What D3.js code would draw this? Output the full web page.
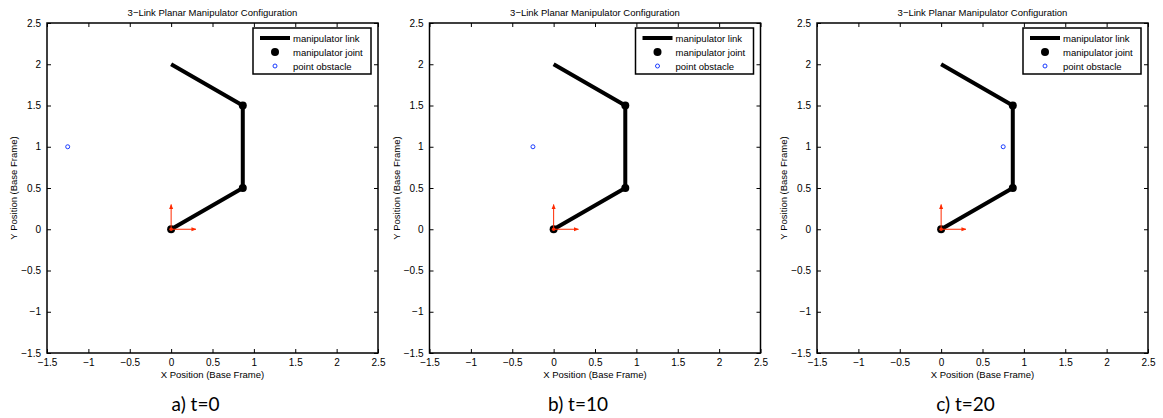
<!DOCTYPE html>
<html><head><meta charset="utf-8">
<script src="https://cdn.jsdelivr.net/npm/d3@7"></script>
<style>body{margin:0;background:#fff}svg{display:block}</style>
</head><body>
<svg id="c" width="1163" height="418"></svg>
<script>
// ---- data ----
const captions = ["a) t=0", "b) t=10", "c) t=20"];
const linkX = [0, 0.866, 0.866, 0];
const linkY = [0, 0.5, 1.5, 2];
const jointX = [0, 0.866, 0.866];
const jointY = [0, 0.5, 1.5];
const obstacleX = [-1.25, -0.25, 0.75];
const obstacleY = [1, 1, 1];
const xTicks = [-1.5, -1, -0.5, 0, 0.5, 1, 1.5, 2, 2.5];
const yTicks = [-1.5, -1, -0.5, 0, 0.5, 1, 1.5, 2, 2.5];
const frameX = [0.3, 0];   // base frame arrow tips
const frameY = [0, 0.3];
const legendLabels = ["manipulator link", "manipulator joint", "point obstacle"];
const title = "3\u2212Link Planar Manipulator Configuration";

const svg = d3.select("#c");
const panelLeft = [47, 429.5, 817];
const W = 331, topY = 23, H = 330;
const font = "'Liberation Sans', Arial, sans-serif";
const fmt = d => (d < 0 ? "\u2212" : "") + String(Math.abs(d));

const defs = svg.append("defs");
defs.append("marker").attr("id", "ah").attr("viewBox", "0 0 10 10")
  .attr("refX", 9).attr("refY", 5).attr("markerWidth", 5).attr("markerHeight", 5)
  .attr("markerUnits", "userSpaceOnUse").attr("orient", "auto")
  .append("path").attr("d", "M0,1 L10,5 L0,9 Z").attr("fill", "#ff2a00");

panelLeft.forEach((L, p) => {
  const x = d3.scaleLinear().domain([-1.5, 2.5]).range([L, L + W]);
  const y = d3.scaleLinear().domain([-1.5, 2.5]).range([topY + H, topY]);
  const g = svg.append("g");

  const ax = (axis, tr) => {
    const a = g.append("g").attr("transform", tr).call(axis);
    a.select(".domain").remove();
    a.selectAll("line").attr("stroke", "#000").attr("stroke-width", 1);
    a.selectAll("text").attr("font-family", font).attr("font-size", 10).attr("fill", "#000");
    return a;
  };
  ax(d3.axisBottom(x).tickValues(xTicks).tickSize(-4).tickPadding(6).tickFormat(fmt), `translate(0,${topY + H})`);
  ax(d3.axisTop(x).tickValues(xTicks).tickSize(-4).tickFormat(""), `translate(0,${topY})`);
  ax(d3.axisLeft(y).tickValues(yTicks).tickSize(-4).tickPadding(6).tickFormat(fmt), `translate(${L},0)`);
  ax(d3.axisRight(y).tickValues(yTicks).tickSize(-4).tickFormat(""), `translate(${L + W},0)`);
  g.append("rect").attr("x", L).attr("y", topY).attr("width", W).attr("height", H)
    .attr("fill", "none").attr("stroke", "#000").attr("stroke-width", 1.5);

  g.append("text").attr("x", L + W / 2).attr("y", 16).attr("text-anchor", "middle")
    .attr("font-family", font).attr("font-size", 9.5).text(title);
  g.append("text").attr("x", L + W / 2).attr("y", 378).attr("text-anchor", "middle")
    .attr("font-family", font).attr("font-size", 9.5).text("X Position (Base Frame)");
  g.append("text").attr("transform", `translate(${L - 30},${topY + H / 2}) rotate(-90)`)
    .attr("text-anchor", "middle").attr("font-family", font).attr("font-size", 9.5)
    .text("Y Position (Base Frame)");
  g.append("text").attr("x", L + W / 2 - 17).attr("y", 411).attr("text-anchor", "middle")
    .attr("font-family", "Lato, 'Open Sans', sans-serif").attr("font-size", 19).text(captions[p]);

  const pts = linkX.map((d, i) => [x(d), y(linkY[i])]);
  g.append("path").attr("d", d3.line()(pts)).attr("fill", "none")
    .attr("stroke", "#000").attr("stroke-width", 4).attr("stroke-linejoin", "round");
  g.selectAll(".j").data(jointX).enter().append("circle")
    .attr("cx", d => x(d)).attr("cy", (d, i) => y(jointY[i])).attr("r", 4).attr("fill", "#000");
  g.append("circle").attr("cx", x(obstacleX[p])).attr("cy", y(obstacleY[p])).attr("r", 2)
    .attr("fill", "none").attr("stroke", "#1a3cff").attr("stroke-width", 1);
  g.append("circle").attr("cx", x(0)).attr("cy", y(0)).attr("r", 1.8).attr("fill", "#ff2a00");
  frameX.forEach((fx, i) => {
    g.append("line").attr("x1", x(0)).attr("y1", y(0)).attr("x2", x(fx)).attr("y2", y(frameY[i]))
      .attr("stroke", "#ff2a00").attr("stroke-width", 1).attr("marker-end", "url(#ah)");
  });

  const lx = L + W - 125, ly = topY + 5;
  const lg = g.append("g");
  lg.append("rect").attr("x", lx).attr("y", ly).attr("width", 118).attr("height", 46)
    .attr("fill", "#fff").attr("stroke", "#000").attr("stroke-width", 1.5);
  legendLabels.forEach((t, i) => {
    const yy = ly + 10 + i * 14;
    lg.append("text").attr("x", lx + 40).attr("y", yy + 3.5).attr("font-family", font)
      .attr("font-size", 9.5).text(t);
    if (i === 0) lg.append("line").attr("x1", lx + 7).attr("x2", lx + 37).attr("y1", yy).attr("y2", yy)
      .attr("stroke", "#000").attr("stroke-width", 4);
    if (i === 1) lg.append("circle").attr("cx", lx + 22).attr("cy", yy).attr("r", 4).attr("fill", "#000");
    if (i === 2) lg.append("circle").attr("cx", lx + 22).attr("cy", yy).attr("r", 2)
      .attr("fill", "none").attr("stroke", "#1a3cff").attr("stroke-width", 1);
  });
});
</script>
</body></html>
